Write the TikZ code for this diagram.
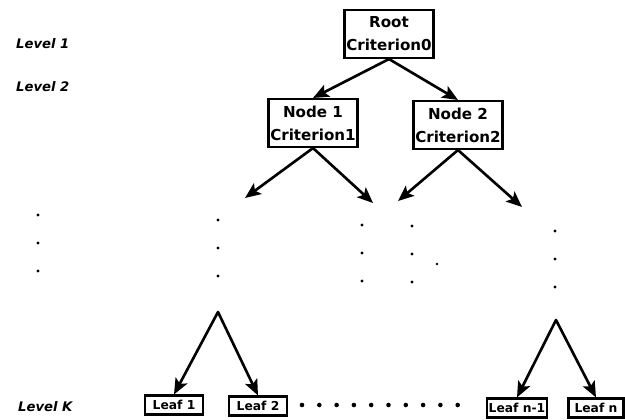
\documentclass[tikz,border=0pt]{standalone}
\usepackage{fontspec}
\setmainfont{DejaVu Sans}
\usetikzlibrary{arrows.meta}

\tikzset{
  critbox/.style={draw, line width=1.2pt, minimum width=1.76cm, minimum height=0.96cm,
    inner sep=1pt, align=center, font=\fontsize{8.6}{13}\selectfont\bfseries},
  leafbox/.style={draw, line width=1.2pt, minimum height=0.38cm, inner sep=1pt,
    font=\fontsize{7}{8}\selectfont\bfseries},
  levellbl/.style={anchor=west, font=\fontsize{7.5}{8}\selectfont\bfseries\itshape},
  branch/.style={->, line width=1.5pt},
}

\begin{document}
\begin{tikzpicture}[x=0.02cm, y=-0.02cm, >={Stealth[length=9pt,width=7.5pt,inset=2pt]}, line cap=round]
  \useasboundingbox (0,0) rectangle (625,419);

  % level labels on the left margin
  \node[levellbl] (lv1) at (10,44)  {Level 1};
  \node[levellbl] (lv2) at (10,87)  {Level 2};
  \node[levellbl] (lvk) at (12,407) {Level K};

  % top of the tree
  \node[critbox] (root) at (389,34)  {Root\\Criterion0};
  \node[critbox] (n1)   at (313,123) {Node 1\\Criterion1};
  \node[critbox] (n2)   at (458,125) {Node 2\\Criterion2};
  \draw[branch] (root.south) -- (n1.north);
  \draw[branch] (root.south) -- (n2.north);

  % open branches below level 2
  \coordinate (a1) at (245,198);
  \coordinate (a2) at (373,203);
  \coordinate (a3) at (398,201);
  \coordinate (a4) at (522,207);
  \draw[branch] (n1.south) -- (a1);
  \draw[branch] (n1.south) -- (a2);
  \draw[branch] (n2.south) -- (a3);
  \draw[branch] (n2.south) -- (a4);

  % vertical ellipses
  \foreach \x/\y in {38/215, 218/220, 362/225, 412/226, 555/231}{
    \foreach \k in {0,1,2}
      \fill (\x,\y+28*\k) circle (0.95pt);
  }
  \fill (437,264) circle (0.75pt);

  % leaves at level K
  \node[leafbox, minimum width=1.16cm] (l1)  at (174,405) {Leaf 1};
  \node[leafbox, minimum width=1.16cm] (l2)  at (258,406) {Leaf 2};
  \node[leafbox, minimum width=1.02cm] (ln1) at (517,408) {Leaf n-1};
  \node[leafbox, minimum width=1.10cm] (ln)  at (596,408) {Leaf n};

  \coordinate (t1) at (218,312);
  \coordinate (t2) at (556,320);
  \draw[branch] (t1) -- (l1.north);
  \draw[branch] (t1) -- (l2.north);
  \draw[branch] (t2) -- (ln1.north);
  \draw[branch] (t2) -- (ln.north);

  % horizontal ellipsis between the leaves
  \foreach \i in {0,...,9}
    \fill (302+17.3*\i,405) circle (1.3pt);

\end{tikzpicture}
\end{document}
